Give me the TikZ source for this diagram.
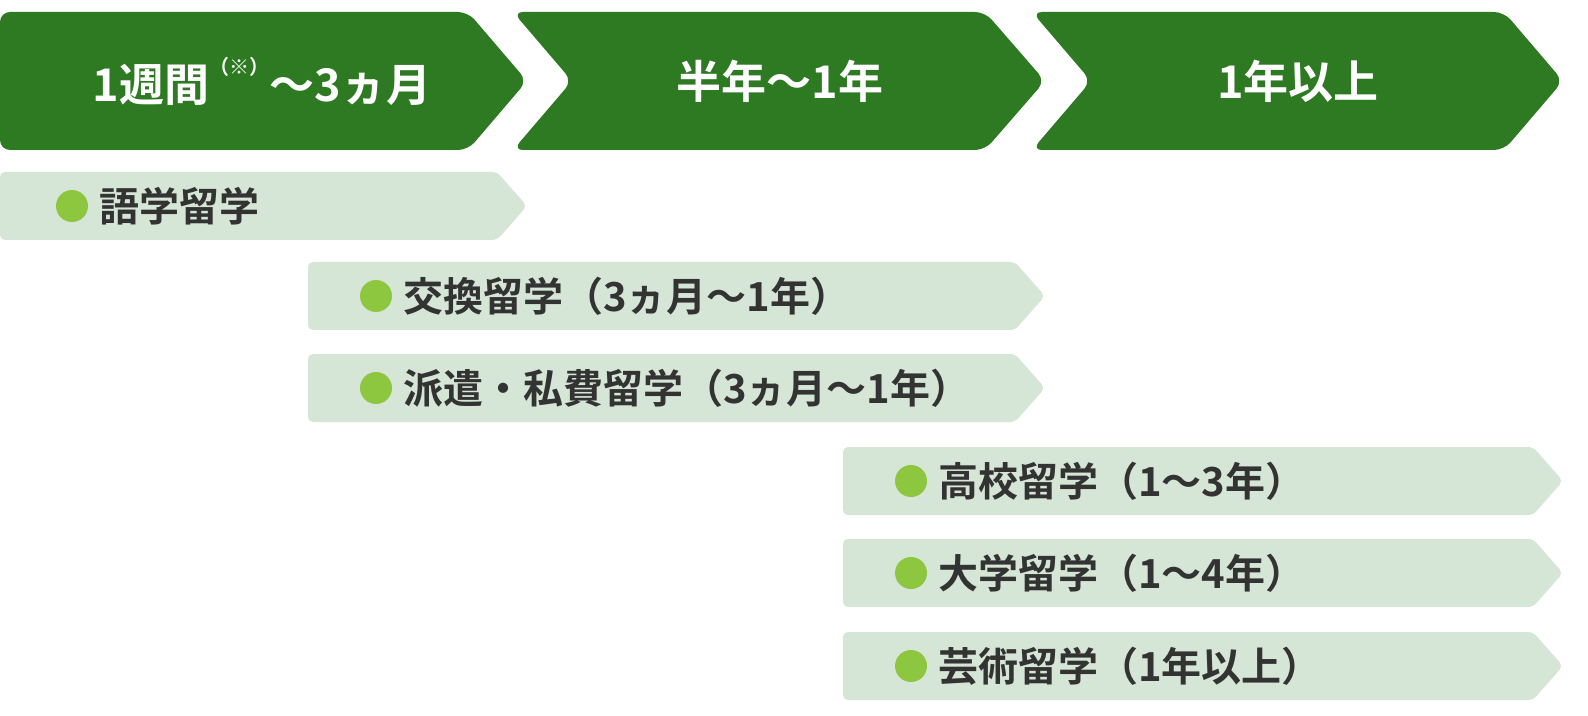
\documentclass[tikz,border=0pt]{standalone}
\usepackage{fontspec}
\setmainfont{Noto Sans CJK JP Bold}
\definecolor{hdr}{HTML}{2E7A22}
\definecolor{bar}{HTML}{D6E6D6}
\definecolor{dot}{HTML}{8DC63F}
\definecolor{txt}{HTML}{333333}
\begin{document}
\begin{tikzpicture}[x=0.5pt,y=-0.5pt,
  hdrshape/.style={fill=hdr,rounded corners=5pt},
  barshape/.style={fill=bar,rounded corners=2.5pt},
  htext/.style={text=white,font=\fontsize{22.5}{26}\selectfont,anchor=center},
  btext/.style={text=txt,font=\fontsize{20}{24}\selectfont,anchor=west},
  bullet/.style={circle,fill=dot,minimum size=16pt,inner sep=0pt}]
\useasboundingbox (0,0) rectangle (1588,716);
% headers
\fill[hdrshape] (0,12) -- (468,12) -- (527,81) -- (468,150) -- (0,150) -- cycle;
\fill[hdrshape] (513,12) -- (985,12) -- (1045,81) -- (985,150) -- (513,150) -- (572,81) -- cycle;
\fill[hdrshape] (1032,12) -- (1504,12) -- (1563,81) -- (1504,150) -- (1032,150) -- (1091,81) -- cycle;
\node[htext] (h1) at (262,81) {1週間\raisebox{1.1ex}{\fontsize{10}{11}\selectfont（※）}～3ヵ月};
\node[htext] (h2) at (780,81) {半年～1年};
\node[htext] (h3) at (1298,81) {1年以上};
% bars
\newcommand{\mybar}[4]{%
  \fill[barshape] (#1,#2) -- (#3-30,#2) -- (#3,#2+34) -- (#3-30,#2+68) -- (#1,#2+68) -- cycle;}
\mybar{0}{172}{527}{}
\mybar{308}{262}{1045}{}
\mybar{308}{354}{1045}{}
\mybar{843}{447}{1563}{}
\mybar{843}{539}{1563}{}
\mybar{843}{632}{1563}{}
\node[bullet] (d1) at (72,206) {};
\node[btext] (t1) at (92,206) {語学留学};
\node[bullet] (d2) at (376,296) {};
\node[btext] (t2) at (396,296) {交換留学（3ヵ月～1年）};
\node[bullet] (d3) at (376,388) {};
\node[btext] (t3) at (396,388) {派遣・私費留学（3ヵ月～1年）};
\node[bullet] (d4) at (911,481) {};
\node[btext] (t4) at (931,481) {高校留学（1～3年）};
\node[bullet] (d5) at (911,573) {};
\node[btext] (t5) at (931,573) {大学留学（1～4年）};
\node[bullet] (d6) at (911,666) {};
\node[btext] (t6) at (931,666) {芸術留学（1年以上）};
\end{tikzpicture}
\end{document}
